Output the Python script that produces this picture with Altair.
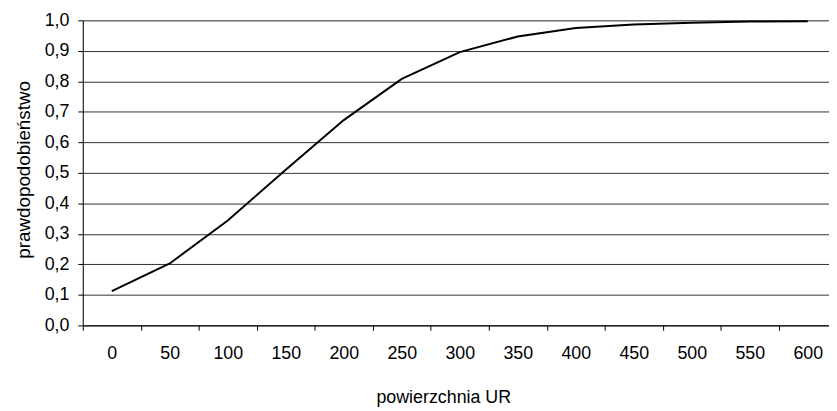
import altair as alt
import pandas as pd

area = [0, 50, 100, 150, 200, 250, 300, 350, 400, 450, 500, 550, 600]
prob = [0.112, 0.203, 0.344, 0.510, 0.673, 0.808, 0.896, 0.947, 0.975, 0.986, 0.992, 0.996, 0.997]
x_ticks = [-25, 0, 25, 50, 75, 100, 125, 150, 175, 200, 225, 250, 275, 300, 325, 350,
           375, 400, 425, 450, 475, 500, 525, 550, 575, 600]
y_ticks = [0.0, 0.1, 0.2, 0.3, 0.4, 0.5, 0.6, 0.7, 0.8, 0.9, 1.0]

df = pd.DataFrame({"x": area, "y": prob})

FONT = "Liberation Sans"
FS = 18

chart = alt.Chart(df).mark_line(color="black", strokeWidth=2).encode(
    x=alt.X(
        "x:Q",
        scale=alt.Scale(domain=[-25, 618.3], nice=False, zero=False),
        axis=alt.Axis(
            values=x_ticks,
            grid=False,
            domainColor="black",
            domainWidth=1,
            tickColor="black",
            tickSize=5,
            tickOpacity={"condition": {"test": "datum.value % 50 === 0", "value": 0}, "value": 1},
            labelExpr="(datum.value % 50 === 0) ? datum.label : ''",
            labelFont=FONT,
            labelFontSize=FS,
            labelColor="black",
            labelBaseline="alphabetic",
            labelPadding=28,
            labelFlush=False,
            labelOverlap=False,
            title="powierzchnia UR",
            titleFont=FONT,
            titleFontSize=FS,
            titleFontWeight="normal",
            titleColor="black",
            titleBaseline="alphabetic",
            titleAnchor="start",
            titleAlign="center",
            titleX=364,
            titleY=78,
        ),
    ),
    y=alt.Y(
        "y:Q",
        scale=alt.Scale(domain=[0, 1], nice=False),
        axis=alt.Axis(
            values=y_ticks,
            grid=True,
            gridColor="#333333",
            gridWidth=1,
            domainColor="black",
            tickColor="black",
            tickSize=5,
            labelExpr="replace(format(datum.value, '.1f'), '.', ',')",
            labelFont=FONT,
            labelFontSize=FS,
            labelColor="black",
            labelPadding=9,
            title="prawdopodobieństwo",
            titleFont=FONT,
            titleFontSize=19,
            titleFontWeight="normal",
            titleColor="black",
            titleBaseline="alphabetic",
            titleAnchor="start",
            titleAlign="center",
            titleAngle=270,
            titleX=-53.5,
            titleY=150.5,
        ),
    ),
).properties(
    width=753.5,
    height=308,
    autosize=alt.AutoSizeParams(type="none"),
    padding={"left": 75.5, "top": 10.5, "right": 0, "bottom": 84},
).configure_view(stroke=None).configure(background="white")

chart.save("out.html", embed_options={"renderer": "svg", "actions": False})
